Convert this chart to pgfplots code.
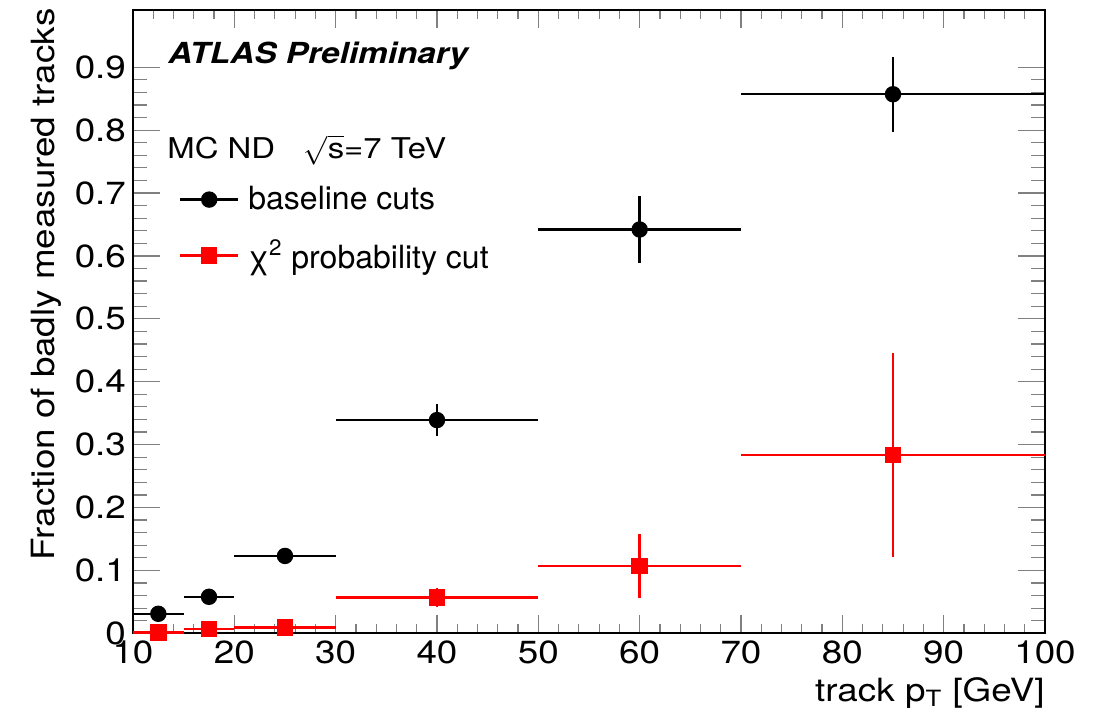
\documentclass[border=0pt]{standalone}
\usepackage{pgfplots}
\pgfplotsset{compat=1.18}
\usepackage{fontspec}
\setmainfont{TeX Gyre Heros}[FakeStretch=1.15]
\newfontfamily\legfont{TeX Gyre Heros}
\begin{document}
\begin{tikzpicture}
\begin{axis}[
  name=ax, at={(0,0)}, anchor=south west,
  scale only axis, width=456pt, height=311.65pt,
  xmin=10, xmax=100, ymin=0, ymax=0.991,
  xtick={10,20,...,100}, ytick={0,0.1,...,0.9},
  minor x tick num=4, minor y tick num=4,
  tick align=inside, tick pos=both,
  xtick style={/pgfplots/major tick length=9pt, /pgfplots/minor tick length=4.5pt, line width=0.6pt},
  ytick style={/pgfplots/major tick length=13.5pt, /pgfplots/minor tick length=7pt, line width=0.6pt},
  axis line style={line width=0.8pt},
  /pgf/number format/assume math mode=true,
  yticklabel style={/pgf/number format/.cd, fixed, precision=1},
  ticklabel style={font=\fontsize{16}{19}\selectfont},
  xlabel={track p\textsubscript{T} [GeV]},
  ylabel={Fraction of badly measured tracks},
  label style={font=\fontsize{16}{19}\selectfont},
  xlabel style={at={(axis description cs:1,-0.109)}, anchor=base east, inner sep=0pt},
  ylabel style={at={(axis description cs:-0.0954,1.003)}, anchor=east, inner sep=0pt},
  clip=false,
  legend style={draw=none, fill=none, at={(axis description cs:0.05,0.724)}, anchor=north west,
    font=\legfont\fontsize{16}{19}\selectfont, row sep=9.6pt, inner sep=0pt,
    /tikz/column 1/.style={column sep=2.5pt}},
  legend cell align=left,
  legend image code/.code={\draw[#1, sharp plot, mark repeat=2, mark phase=2] plot coordinates {(0pt,0pt) (14.5pt,0pt) (29pt,0pt)};},
]
\addplot[black, line width=1.2pt, only marks, mark=*, mark size=3.5pt,
  error bars/x dir=both, error bars/x explicit, error bars/y dir=both, error bars/y explicit,
  error bars/error mark=none, error bars/error bar style={line width=1.2pt}]
  table[x=x, y=y, x error=ex, y error=ey] {
x ex y ey
12.5 2.5 0.031 0.002
17.5 2.5 0.058 0.003
25 5 0.123 0.005
40 10 0.339 0.025
60 10 0.642 0.053
85 15 0.857 0.060
};
\addlegendentry{baseline cuts}
\addplot[red, line width=1.2pt, only marks, mark=square*, mark size=3.5pt,
  error bars/x dir=both, error bars/x explicit, error bars/y dir=both, error bars/y explicit,
  error bars/error mark=none, error bars/error bar style={line width=1.2pt}]
  table[x=x, y=y, x error=ex, y error=ey] {
x ex y ey
12.5 2.5 0.001 0.001
17.5 2.5 0.007 0.002
25 5 0.009 0.003
40 10 0.057 0.015
60 10 0.107 0.051
85 15 0.283 0.162
};
\addlegendentry{χ\textsuperscript{2} probability cut}
\node[anchor=base west, inner sep=0pt, font=\fontsize{14.5}{17}\selectfont\bfseries\itshape]
  at (axis description cs:0.0384,0.9134) {ATLAS Preliminary};
\node[anchor=base west, inner sep=0pt, font=\fontsize{14.3}{17}\selectfont]
  at (axis description cs:0.0373,0.761) {MC ND\quad$\sqrt{\mbox{s}}$=7 TeV};
\end{axis}
\pgfresetboundingbox
\path[use as bounding box] (-66.5pt,-41.35pt) rectangle (484pt,316.65pt);
\end{tikzpicture}
\end{document}
